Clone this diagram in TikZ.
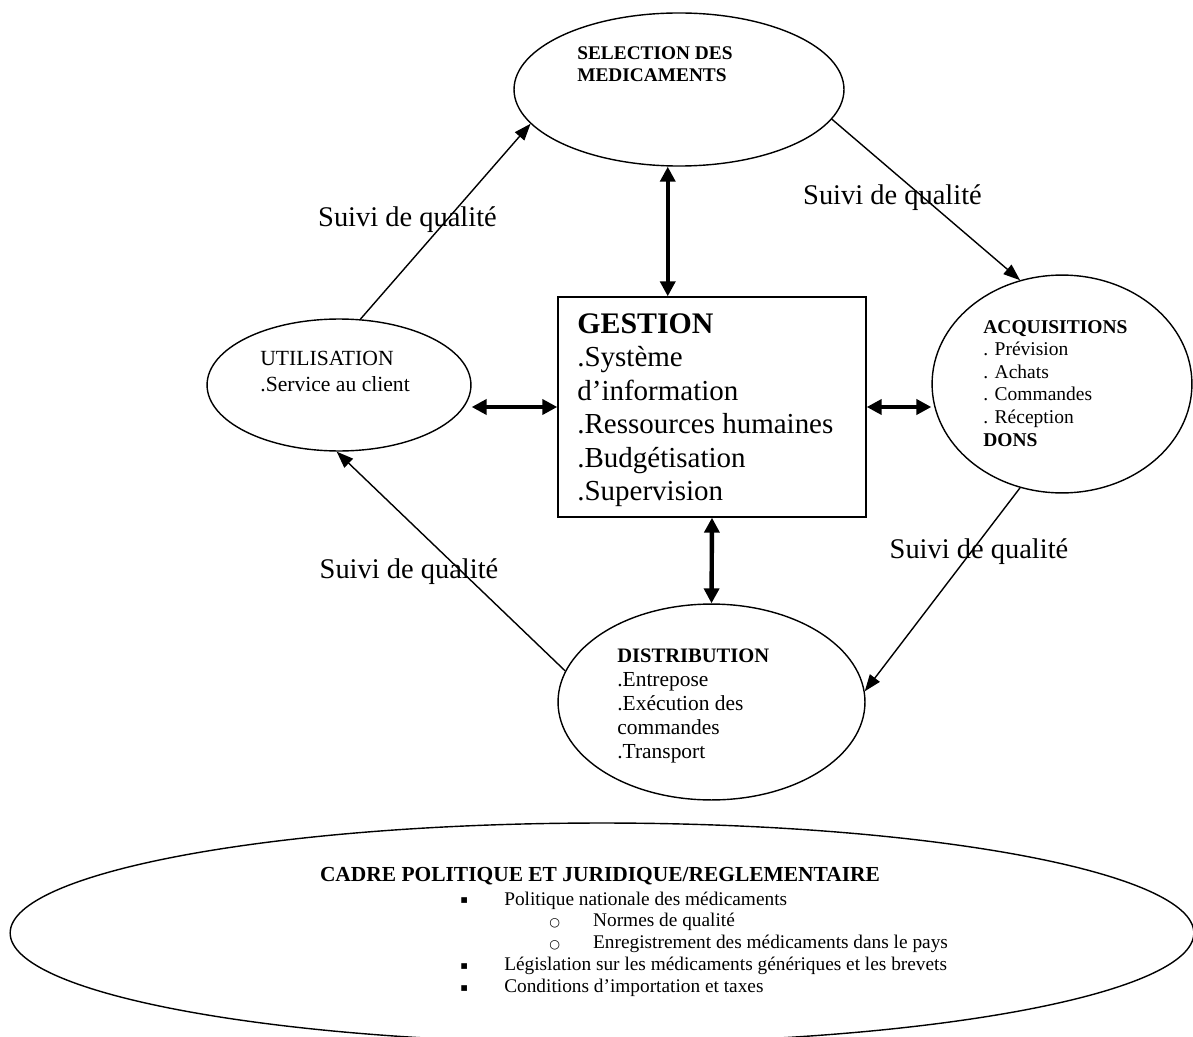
\documentclass[tikz,border=0pt]{standalone}
\usepackage{fontspec}
\setmainfont{Liberation Serif}
\newfontfamily\pucefont{DejaVu Sans}
\usetikzlibrary{arrows.meta,shapes.geometric,calc}

\newcommand{\puce}{\raisebox{0.6pt}{\pucefont\fontsize{6.5}{7}\selectfont ▪}}
\newcommand{\rond}{\raisebox{0.3pt}{\pucefont\fontsize{7}{8}\selectfont ○}}

\tikzset{
  oval/.style={draw, ellipse, line width=0.8pt, inner sep=0pt},
  txt/.style={anchor=base west, inner sep=0pt},
  suivi/.style={anchor=base, inner sep=0pt, font=\fontsize{16.2}{19}\selectfont},
  flow/.style={line width=0.8pt, -{Triangle[length=9.5pt,width=7pt]}},
  biflow/.style={line width=2.5pt, {Triangle[length=8.5pt,width=8.5pt]}-{Triangle[length=8.5pt,width=8.5pt]}},
}

\begin{document}
\begin{tikzpicture}[x=0.02cm, y=-0.02cm]

  \useasboundingbox (0,0) rectangle (1193,1037);

  % --- Ellipses and box ---
  \node (sel)  [oval, minimum width=187.8pt, minimum height=87.1pt] at (679,89.5) {};
  \node (util) [oval, minimum width=150.2pt, minimum height=75.1pt] at (339,385) {};
  \node (acq)  [oval, minimum width=147.9pt, minimum height=124pt] at (1062,384) {};
  \node (dist) [oval, minimum width=174.7pt, minimum height=111.5pt] at (711.5,702) {};
  \node (cadre) [oval, minimum width=673.7pt, minimum height=125.2pt] at (602,933) {};
  \node (gestion) [draw, line width=0.8pt, inner sep=0pt,
        minimum width=175.3pt, minimum height=125.2pt] at (712,407) {};

  % --- Texts inside ---
  \node (seltxt) [txt, font=\fontsize{11}{12}\selectfont\bfseries] at (577,60)
        {\begin{tabular}[t]{@{}l@{}}SELECTION DES\\MEDICAMENTS\end{tabular}};
  \node (utiltxt) [txt, font=\fontsize{12.3}{14.8}\selectfont] at (260,365)
        {\begin{tabular}[t]{@{}l@{}}UTILISATION\\.Service au client\end{tabular}};
  \node (acqtxt) [txt, font=\fontsize{11.1}{12.9}\selectfont] at (983,333)
        {\begin{tabular}[t]{@{}l@{}}\textbf{ACQUISITIONS}\\. Prévision\\. Achats\\. Commandes\\. Réception\\\textbf{DONS}\end{tabular}};
  \node (disttxt) [txt, font=\fontsize{12.2}{13.8}\selectfont] at (617,662)
        {\begin{tabular}[t]{@{}l@{}}{\fontsize{11.7}{13.8}\selectfont\bfseries DISTRIBUTION}\\.Entrepose\\.Exécution des\\commandes\\.Transport\end{tabular}};
  \node (gesttxt) [txt, font=\fontsize{16.5}{19.1}\selectfont] at (577,333)
        {\begin{tabular}[t]{@{}l@{}}{\fontsize{17}{19.1}\selectfont\bfseries GESTION}\\.Système\\d’information\\.Ressources humaines\\.Budgétisation\\.Supervision\end{tabular}};

  \node (cadretitle) [anchor=base, inner sep=0pt, font=\fontsize{12.2}{14}\selectfont\bfseries] at (600,881)
        {CADRE POLITIQUE ET JURIDIQUE/REGLEMENTAIRE};
  \node (cadretxt) [txt, font=\fontsize{11}{12.5}\selectfont] at (460,905)
        {\begin{tabular}[t]{@{}l@{}}
          \makebox[25pt][l]{\puce}Politique nationale des médicaments\\
          \hspace{50.6pt}\makebox[25pt][l]{\rond}Normes de qualité\\
          \hspace{50.6pt}\makebox[25pt][l]{\rond}Enregistrement des médicaments dans le pays\\
          \makebox[25pt][l]{\puce}Législation sur les médicaments génériques et les brevets\\
          \makebox[25pt][l]{\puce}Conditions d’importation et taxes
        \end{tabular}};

  % --- Quality cycle ---
  \draw[flow] (util.72) -- (sel.193);
  \draw[flow] (sel.349) -- (acq.112);
  \draw[flow] (acq.248) -- (dist.4);
  \draw[flow] (dist.168) -- (util.268);

  \node (q1) [suivi] at (407.5,227) {Suivi de qualité};
  \node (q2) [suivi] at (892.5,205) {Suivi de qualité};
  \node (q3) [suivi] at (979,558) {Suivi de qualité};
  \node (q4) [suivi] at (409,578) {Suivi de qualité};

  % --- Links to the management box ---
  \coordinate (gtop) at ($(gestion.north west)!0.357!(gestion.north east)$);
  \draw[biflow] (gtop) -- (gtop |- sel.south);
  \draw[biflow] (gestion.south) -- (dist.north);
  \draw[biflow] (gestion.west) -- (gestion.west -| util.east);
  \draw[biflow] (gestion.east) -- (gestion.east -| acq.west);

\end{tikzpicture}
\end{document}
